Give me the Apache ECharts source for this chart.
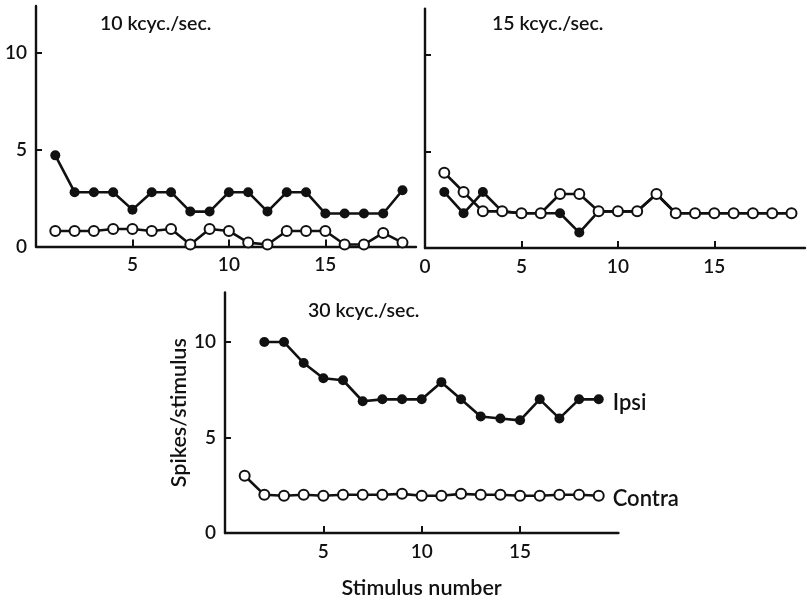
<!DOCTYPE html>
<html>
<head>
<meta charset="utf-8">
<script src="https://cdn.jsdelivr.net/npm/echarts@6/dist/echarts.min.js"></script>
<style>
html,body{margin:0;padding:0;background:#fff;}
#c{width:807px;height:600px;}
</style>
</head>
<body>
<div id="c"></div>
<script>
// ---- data ----
const stimulus = [1,2,3,4,5,6,7,8,9,10,11,12,13,14,15,16,17,18,19];
const stimulusBottomIpsi = [2,3,4,5,6,7,8,9,10,11,12,13,14,15,16,17,18,19];

const ipsi10 = [4.7,2.8,2.8,2.8,1.9,2.8,2.8,1.8,1.8,2.8,2.8,1.8,2.8,2.8,1.7,1.7,1.7,1.7,2.9];
const contra10 = [0.8,0.8,0.8,0.9,0.9,0.8,0.9,0.1,0.9,0.8,0.2,0.1,0.8,0.8,0.8,0.1,0.1,0.7,0.2];

const ipsi15 = [2.9,1.8,2.9,1.9,1.8,1.8,1.8,0.8,1.9,1.9,1.9,2.8,1.8,1.8,1.8,1.8,1.8,1.8,1.8];
const contra15 = [3.9,2.9,1.9,1.9,1.8,1.8,2.8,2.8,1.9,1.9,1.9,2.8,1.8,1.8,1.8,1.8,1.8,1.8,1.8];

const ipsi30 = [10,10,8.9,8.1,8.0,6.9,7.0,7.0,7.0,7.9,7.0,6.1,6.0,5.9,7.0,6.0,7.0,7.0];
const contra30 = [3.0,2.0,1.95,2.0,1.95,2.0,2.0,2.0,2.05,1.95,1.95,2.05,2.0,2.0,1.95,1.95,2.0,2.0,1.95];

const panelTitles = ['10 kcyc./sec.', '15 kcyc./sec.', '30 kcyc./sec.'];
const yTicks = [0,5,10];
const xTicks = [5,10,15];
const xTicksRight = [0,5,10,15];
const seriesNames = ['Ipsi','Contra'];
const xTitle = 'Stimulus number';
const yTitle = 'Spikes/stimulus';

// ---- chart ----
const INK = '#111';
const FONT = 'Lato';
const W = 600;
const zip = (xs, ys) => xs.map((x, i) => [x, ys[i]]);

function xAxis(gridIndex, max, labelVals) {
  return {
    type: 'value', gridIndex, min: 0, max,
    splitLine: {show: false},
    axisLine: {show: true, onZero: false, lineStyle: {color: INK, width: 2.4}},
    axisTick: {show: true, inside: true, length: 7, lineStyle: {color: INK, width: 2}, customValues: xTicks},
    axisLabel: {show: true, customValues: labelVals, color: INK, fontFamily: FONT, fontWeight: W, fontSize: 19, margin: 9}
  };
}
function yAxis(gridIndex, max, showLabels, extra) {
  return Object.assign({
    type: 'value', gridIndex, min: 0, max,
    splitLine: {show: false},
    axisLine: {show: true, onZero: false, lineStyle: {color: INK, width: 2.4}},
    axisTick: {show: true, inside: true, length: 6, lineStyle: {color: INK, width: 2}, customValues: [5,10]},
    axisLabel: {show: showLabels, customValues: yTicks, color: INK, fontFamily: FONT, fontWeight: W, fontSize: 19, margin: 9}
  }, extra || {});
}
function filled(name, xi, data, extra) {
  return Object.assign({
    type: 'line', name, xAxisIndex: xi, yAxisIndex: xi, data,
    symbol: 'circle', symbolSize: 10,
    itemStyle: {color: INK},
    lineStyle: {color: INK, width: 2.6},
    z: 2, animation: false, silent: true
  }, extra || {});
}
function open(name, xi, data, extra) {
  return Object.assign({
    type: 'line', name, xAxisIndex: xi, yAxisIndex: xi, data,
    symbol: 'circle', symbolSize: 10, showAllSymbol: true,
    itemStyle: {color: '#fff', borderColor: INK, borderWidth: 2},
    lineStyle: {color: INK, width: 2.6},
    z: 3, animation: false, silent: true
  }, extra || {});
}
const titleStyle = {color: INK, fontFamily: FONT, fontSize: 19.5, fontWeight: W};
const nameStyle = {color: INK, fontFamily: FONT, fontSize: 21.5, fontWeight: W};
const endStyle = {color: INK, fontFamily: FONT, fontWeight: W, fontSize: 22};

const chart = echarts.init(document.getElementById('c'), null, {renderer: 'canvas'});
chart.setOption({
  backgroundColor: '#fff',
  animation: false,
  title: [
    {text: panelTitles[0], left: 95, top: 9, textStyle: titleStyle},
    {text: panelTitles[1], left: 487, top: 9, textStyle: titleStyle},
    {text: panelTitles[2], left: 303, top: 296, textStyle: titleStyle}
  ],
  grid: [
    {left: 36, top: 6, width: 380, height: 240.5},
    {left: 425, top: 8.7, width: 380, height: 239.3},
    {left: 225, top: 292.4, width: 393.4, height: 243.6}
  ],
  xAxis: [
    xAxis(0, 19.7, xTicks),
    xAxis(1, 19.7, xTicksRight),
    Object.assign(xAxis(2, 20, xTicks), {
      name: xTitle, nameLocation: 'middle', nameGap: 44, nameTextStyle: nameStyle
    })
  ],
  yAxis: [
    yAxis(0, 12.4, true),
    yAxis(1, 12.4, false),
    yAxis(2, 12.6, true, {
      name: yTitle, nameLocation: 'middle', nameGap: 34, nameRotate: 90, nameTextStyle: nameStyle
    })
  ],
  series: [
    filled(seriesNames[0], 0, zip(stimulus, ipsi10)),
    open(seriesNames[1], 0, zip(stimulus, contra10)),
    filled(seriesNames[0], 1, zip(stimulus, ipsi15)),
    open(seriesNames[1], 1, zip(stimulus, contra15)),
    filled(seriesNames[0], 2, zip(stimulusBottomIpsi, ipsi30), {
      endLabel: Object.assign({show: true, formatter: seriesNames[0], distance: 14, offset: [0, 4]}, endStyle)
    }),
    open(seriesNames[1], 2, zip(stimulus, contra30), {
      endLabel: Object.assign({show: true, formatter: seriesNames[1], distance: 14, offset: [0, 3]}, endStyle)
    })
  ]
});
</script>
</body>
</html>
